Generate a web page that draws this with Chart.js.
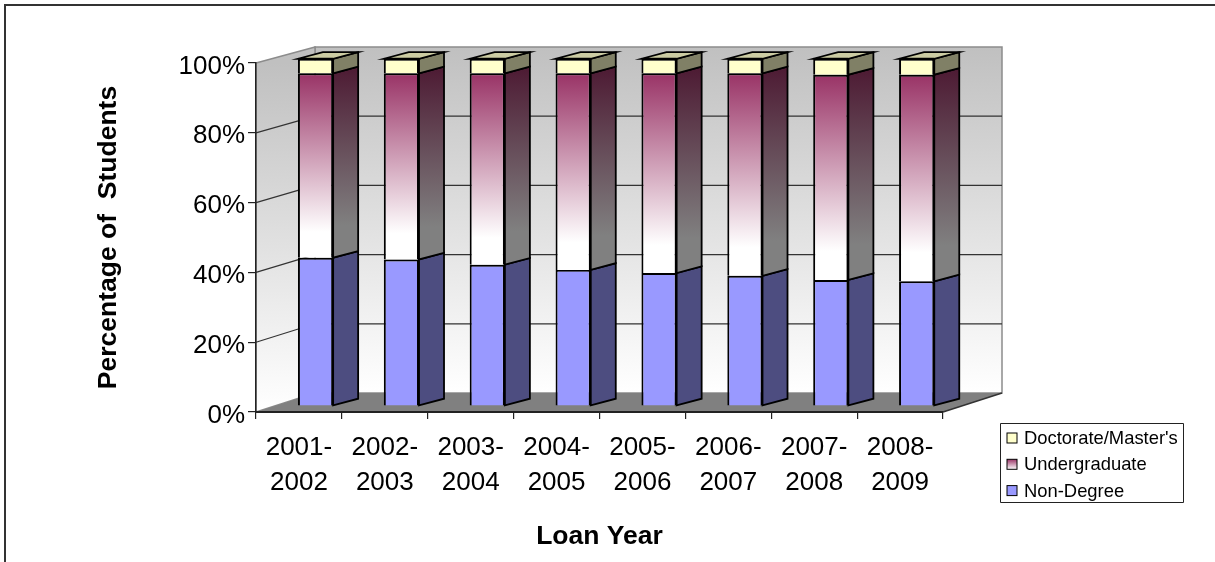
<!DOCTYPE html>
<html>
<head>
<meta charset="utf-8">
<title>Percentage of Students by Loan Year</title>
<style>
  body { margin: 0; background: #fff; }
  canvas { display: block; }
</style>
<script src="https://cdn.jsdelivr.net/npm/chart.js@4/dist/chart.umd.min.js"></script>
</head>
<body>
<canvas id="loanChart" width="1215" height="562"></canvas>
<script>
const loanYears = [['2001-', '2002'], ['2002-', '2003'], ['2003-', '2004'], ['2004-', '2005'],
                   ['2005-', '2006'], ['2006-', '2007'], ['2007-', '2008'], ['2008-', '2009']];
const nonDegree = [42.7, 42.2, 40.7, 39.2, 38.3, 37.5, 36.3, 35.9];
const undergraduate = [53.1, 53.6, 55.1, 56.6, 57.5, 58.3, 59.1, 59.5];
const doctorate = [4.2, 4.2, 4.2, 4.2, 4.2, 4.2, 4.6, 4.6];
const percentTicks = [0, 20, 40, 60, 80, 100];

const FONT = '"Liberation Sans", Arial, sans-serif';

// depth of the box the bars stand in (a little less at the top), and of the bars themselves
const wallDepth = { x: 59, top: -16, bottom: -19 };
const barDepth = { x: 25, y: -6.7 };
const barShift = { x: 16.6, y: -6 };

function undergradGradient(c, from, to) {
  const chart = c.chart;
  if (!chart.chartArea) return from;
  const y = chart.scales.y;
  const i = c.dataIndex;
  const g = chart.ctx.createLinearGradient(0, y.getPixelForValue(nonDegree[i] + undergraduate[i]), 0, y.getPixelForValue(nonDegree[i]));
  g.addColorStop(0, from);
  g.addColorStop(0.86, to);
  g.addColorStop(1, to);
  return g;
}

function poly(ctx, pts, fill, stroke, lw) {
  ctx.beginPath();
  pts.forEach((p, i) => i ? ctx.lineTo(p[0], p[1]) : ctx.moveTo(p[0], p[1]));
  ctx.closePath();
  if (fill) { ctx.fillStyle = fill; ctx.fill(); }
  if (stroke) { ctx.strokeStyle = stroke; ctx.lineWidth = lw; ctx.stroke(); }
}

// back wall, left wall, floor and the outer frame
const boxPlugin = {
  id: 'box',
  beforeDraw(chart) {
    const ctx = chart.ctx;
    const a = chart.chartArea;
    const dx = wallDepth.x;
    const backY = y => y + wallDepth.top + (wallDepth.bottom - wallDepth.top) * (y - a.top) / (a.bottom - a.top);

    ctx.save();
    ctx.strokeStyle = '#333';
    ctx.lineWidth = 2;
    ctx.beginPath();
    ctx.moveTo(1215, 5);
    ctx.lineTo(5, 5);
    ctx.lineTo(5, 562);
    ctx.stroke();

    const wall = ctx.createLinearGradient(0, backY(a.top), 0, backY(a.bottom));
    wall.addColorStop(0, '#c0c0c0');
    wall.addColorStop(1, '#ffffff');
    poly(ctx, [[a.left + dx, backY(a.top)], [a.right + dx, backY(a.top)], [a.right + dx, backY(a.bottom)], [a.left + dx, backY(a.bottom)]], wall, '#8c8c8c', 1.5);
    const side = ctx.createLinearGradient(0, a.top, 0, a.bottom);
    side.addColorStop(0, '#c0c0c0');
    side.addColorStop(1, '#ffffff');
    poly(ctx, [[a.left, a.top], [a.left + dx, backY(a.top)], [a.left + dx, backY(a.bottom)], [a.left, a.bottom]], side, '#8c8c8c', 1.5);

    ctx.strokeStyle = '#333';
    ctx.lineWidth = 1.2;
    percentTicks.slice(1, -1).forEach(v => {
      const y = chart.scales.y.getPixelForValue(v);
      ctx.beginPath();
      ctx.moveTo(a.left, y);
      ctx.lineTo(a.left + dx, backY(y));
      ctx.lineTo(a.right + dx, backY(y));
      ctx.stroke();
    });

    poly(ctx, [[a.left, a.bottom], [a.left + dx, backY(a.bottom)], [a.right + dx, backY(a.bottom)], [a.right, a.bottom]], '#808080');
    ctx.strokeStyle = '#333';
    ctx.lineWidth = 1.5;
    ctx.beginPath();
    ctx.moveTo(a.right, a.bottom);
    ctx.lineTo(a.right + dx, backY(a.bottom));
    ctx.stroke();
    ctx.restore();
  },
  // bars sit part way into the box, so move them off the axis plane
  beforeDatasetsDraw(chart) {
    const ctx = chart.ctx;
    ctx.save();
    ctx.translate(barShift.x, barShift.y);
    ctx.translate(0, chart.chartArea.bottom);
    ctx.scale(1, 0.995);
    ctx.translate(0, -chart.chartArea.bottom);
  },
  afterDatasetsDraw(chart) {
    const ctx = chart.ctx;
    const dx = barDepth.x, dy = barDepth.y;
    const sideFills = ['#4d4d80', null, '#808066'];
    chart.data.datasets.forEach((ds, d) => {
      chart.getDatasetMeta(d).data.forEach(bar => {
        const r = bar.x + bar.width / 2;
        let fill = sideFills[d];
        if (!fill) {
          fill = ctx.createLinearGradient(0, bar.y + dy, 0, bar.base + dy);
          fill.addColorStop(0, '#4d1a33');
          fill.addColorStop(0.86, '#808080');
          fill.addColorStop(1, '#808080');
        }
        poly(ctx, [[r, bar.y], [r + dx, bar.y + dy], [r + dx, bar.base + dy], [r, bar.base]], fill, '#000', 1.8);
        if (d === 2) {
          const l = bar.x - bar.width / 2;
          poly(ctx, [[l, bar.y], [l + dx, bar.y + dy], [r + dx, bar.y + dy], [r, bar.y]], '#cccca3', '#000', 1.8);
        }
      });
    });
    ctx.restore();
  },
  afterDraw(chart) {
    const ctx = chart.ctx;
    ctx.save();
    poly(ctx, [[1000.5, 423.5], [1183.5, 423.5], [1183.5, 502.5], [1000.5, 502.5]], '#fff', '#222', 1);
    ctx.font = '18.4px ' + FONT;
    ctx.textBaseline = 'middle';
    const rows = [2, 1, 0];
    rows.forEach((d, i) => {
      const y = 438 + i * 26.3;
      let fill = chart.data.datasets[d].legendFill;
      if (d === 1) {
        fill = ctx.createLinearGradient(0, y - 5, 0, y + 5);
        fill.addColorStop(0, '#993366');
        fill.addColorStop(1, '#ffffff');
      }
      ctx.fillStyle = fill;
      ctx.fillRect(1007, y - 5, 10, 10);
      ctx.strokeStyle = '#000';
      ctx.lineWidth = 1;
      ctx.strokeRect(1007, y - 5, 10, 10);
      ctx.fillStyle = '#000';
      ctx.fillText(chart.data.datasets[d].label, 1024, y + 1);
    });
    ctx.restore();
  }
};

const barStyle = { borderColor: '#000', borderWidth: 2, barPercentage: 0.41, categoryPercentage: 1, clip: false };

new Chart(document.getElementById('loanChart'), {
  type: 'bar',
  data: {
    labels: loanYears,
    datasets: [
      { label: 'Non-Degree', data: nonDegree, backgroundColor: '#9999ff', legendFill: '#9999ff', ...barStyle },
      { label: 'Undergraduate', data: undergraduate, backgroundColor: c => undergradGradient(c, '#993366', '#ffffff'), ...barStyle },
      { label: "Doctorate/Master's", data: doctorate, backgroundColor: '#ffffcc', legendFill: '#ffffcc', ...barStyle }
    ]
  },
  options: {
    responsive: false,
    animation: false,
    events: [],
    layout: { padding: { top: 63, right: 272, left: 0, bottom: 0 } },
    plugins: { legend: { display: false }, tooltip: { enabled: false } },
    scales: {
      x: {
        stacked: true,
        afterFit: s => { s.height = 150; },
        grid: { drawOnChartArea: false, color: '#222', tickLength: 7, lineWidth: 1.2 },
        border: { color: '#222', width: 2 },
        ticks: { color: '#000', font: { family: FONT, size: 26, lineHeight: 1.35 }, padding: 11, maxRotation: 0, autoSkip: false },
        title: {
          display: true,
          text: 'Loan Year',
          color: '#000',
          font: { family: FONT, size: 26.5, weight: 'bold' },
          padding: { top: 0, bottom: 9 }
        }
      },
      y: {
        stacked: true,
        min: 0,
        max: 100,
        afterFit: s => { s.width = 256; },
        afterBuildTicks: s => { s.ticks = percentTicks.map(v => ({ value: v })); },
        grid: { drawOnChartArea: false, color: '#222', tickLength: 8, lineWidth: 1.2 },
        border: { color: '#222', width: 1.5 },
        ticks: { color: '#000', font: { family: FONT, size: 26 }, padding: 3, labelOffset: 3.5, callback: v => v + '%' },
        title: {
          display: true,
          text: 'Percentage of  Students',
          color: '#000',
          font: { family: FONT, size: 26.5, weight: 'bold' },
          padding: { top: 93, bottom: 0 }
        }
      }
    }
  },
  plugins: [boxPlugin]
});
</script>
</body>
</html>
